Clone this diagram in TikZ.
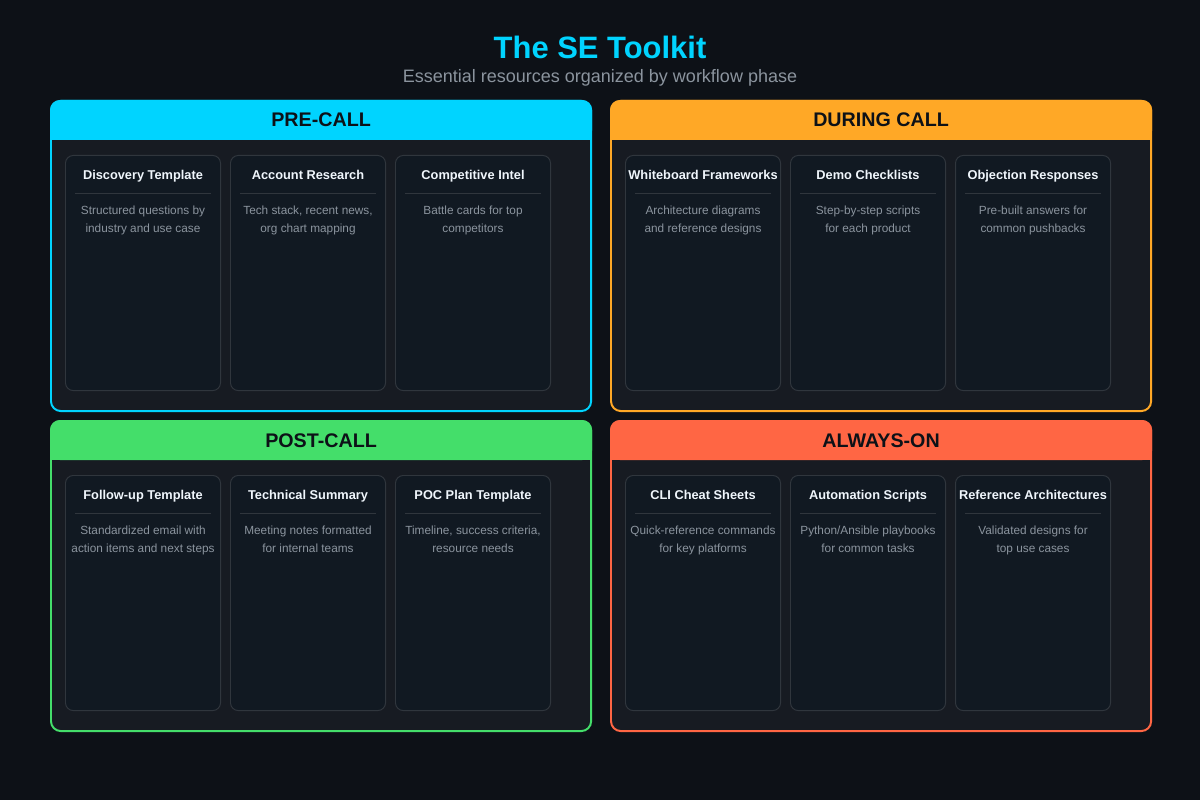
\documentclass[tikz,border=0pt]{standalone}
\usepackage{fontspec}
\setmainfont{Liberation Sans}
\usetikzlibrary{positioning,calc}
\definecolor{pagebg}{HTML}{0D1117}
\definecolor{panelbg}{HTML}{171B22}
\definecolor{cardbg}{HTML}{111922}
\definecolor{cardline}{HTML}{30363D}
\definecolor{mutedtxt}{HTML}{8B949E}
\definecolor{lighttxt}{HTML}{F0F6FC}
\definecolor{precol}{HTML}{00D4FF}
\definecolor{duringcol}{HTML}{FFA826}
\definecolor{postcol}{HTML}{44DE6A}
\definecolor{alwayscol}{HTML}{FF6644}
\tikzset{
  panel/.style={draw=#1, line width=1.4pt, rounded corners=7pt, fill=panelbg, anchor=north west, minimum width=13.5cm, minimum height=7.75cm, inner sep=0pt},
  phasehead/.style={font=\fontsize{14}{16}\selectfont\bfseries, text=pagebg, anchor=base},
  card/.style={draw=cardline, line width=0.7pt, rounded corners=5.5pt, fill=cardbg, anchor=north west, minimum width=3.875cm, minimum height=5.875cm, inner sep=0pt},
  cardtitle/.style={font=\fontsize{9.1}{11}\selectfont\bfseries, text=lighttxt, anchor=base},
  carddesc/.style={font=\fontsize{8.4}{12.8}\selectfont, text=mutedtxt, align=center, anchor=north},
  sepline/.style={draw=cardline, line width=0.7pt}
}
\begin{document}
\begin{tikzpicture}[x=0.025cm, y=-0.025cm]
  \fill[pagebg] (0,0) rectangle (1200,800);
  \node[font=\fontsize{22}{26}\selectfont\bfseries, text=precol] (title) at (600,47) {The SE Toolkit};
  \node[font=\fontsize{12.8}{15}\selectfont, text=mutedtxt] (subtitle) at (600,78) {Essential resources organized by workflow phase};

  % the four phase panels
  \foreach \name/\x/\y/\col/\head in {pre/50/100/precol/PRE-CALL, during/610/100/duringcol/DURING CALL,
                                      post/50/420/postcol/POST-CALL, always/610/420/alwayscol/ALWAYS-ON} {
    \node[panel=\col] (\name) at (\x,\y) {};
    \fill[\col, rounded corners=7pt] (\name.north west) rectangle ($(\name.north east)+(0,40)$);
    \fill[\col] ($(\name.north west)+(0,20)$) rectangle ($(\name.north east)+(0,40)$);
    \node[phasehead] (\name-h) at ($(\name.north)+(0,27)$) {\head};
  }

  % resource cards
  \foreach \p/\i/\t/\d in {
      pre/0/Discovery Template/{Structured questions by\\industry and use case},
      pre/1/Account Research/{Tech stack, recent news,\\org chart mapping},
      pre/2/Competitive Intel/{Battle cards for top\\competitors},
      during/0/Whiteboard Frameworks/{Architecture diagrams\\and reference designs},
      during/1/Demo Checklists/{Step-by-step scripts\\for each product},
      during/2/Objection Responses/{Pre-built answers for\\common pushbacks},
      post/0/Follow-up Template/{Standardized email with\\action items and next steps},
      post/1/Technical Summary/{Meeting notes formatted\\for internal teams},
      post/2/POC Plan Template/{Timeline, success criteria,\\resource needs},
      always/0/CLI Cheat Sheets/{Quick-reference commands\\for key platforms},
      always/1/Automation Scripts/{Python/Ansible playbooks\\for common tasks},
      always/2/Reference Architectures/{Validated designs for\\top use cases}} {
    \node[card] (\p-\i) at ($(\p.north west)+(15+165*\i,55)$) {};
    \node[cardtitle] (\p-\i-t) at ($(\p-\i.north)+(0,24.5)$) {\t};
    \draw[sepline] ($(\p-\i.north west)+(10,38)$) -- ($(\p-\i.north east)+(-10,38)$);
    \node[carddesc] (\p-\i-d) at ($(\p-\i.north)+(0,46)$) {\d};
  }
\end{tikzpicture}
\end{document}
